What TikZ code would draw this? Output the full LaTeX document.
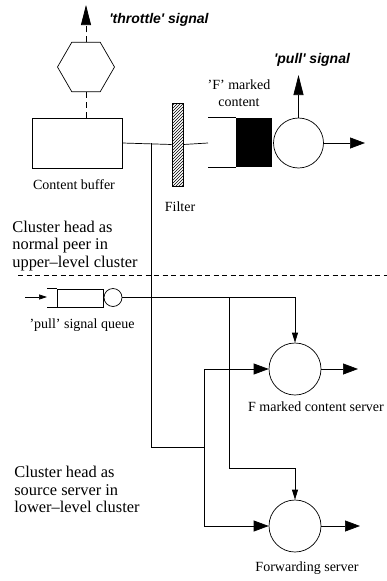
\documentclass[tikz,border=0pt]{standalone}
\usepackage{fontspec}
\setmainfont{Liberation Serif}
\newfontfamily\signalfont{Liberation Sans}
\usetikzlibrary{positioning,arrows.meta,shapes.geometric,patterns,calc}

\newcommand{\lblsize}{\fontsize{14}{17}\selectfont}
\newcommand{\roleside}{\fontsize{16.4}{17.2}\selectfont}

\begin{document}
\begin{tikzpicture}[x=1pt, y=-1pt, line width=0.7pt,
    bigtip/.style={-{Triangle[length=20pt,width=10pt]}},
    sidetip/.style={-{Triangle[length=15pt,width=11pt]}},
    smalltip/.style={-{Triangle[length=10pt,width=6pt]}},
    tinytip/.style={-{Triangle[length=8pt,width=5pt]}},
    dashwire/.style={dash pattern=on 6pt off 4pt},
    label/.style={font=\lblsize, inner sep=0pt},
    signal/.style={font=\signalfont\bfseries\itshape\lblsize, inner sep=0pt},
    role/.style={font=\roleside, align=left, anchor=west, inner sep=0pt},
    server/.style={draw, circle, minimum size=52pt, inner sep=0pt}]

    \useasboundingbox (0,0) rectangle (387,581);

    % ================= UPPER-LEVEL CLUSTER =================
    \node[draw, regular polygon, regular polygon sides=6, minimum size=57pt, inner sep=0pt] (throttle) at (86,67) {};
    \node[draw, rectangle, minimum width=90pt, minimum height=50pt, inner sep=0pt] (buf) at (77,143) {};
    \node[label] (buflbl) at (74,185) {Content buffer};
    \coordinate (throttleend) at (86,5);
    \node[signal] (throttlelbl) at (159,20) {'throttle' signal};

    % throttle signal out of the buffer
    \draw[dashwire] (buf.north -| throttle.center) -- ($(throttle.center)+(0,24.7)$);
    \draw[dashwire, bigtip] ($(throttle.center)+(0,-24.7)$) -- (throttleend);

    % Filter
    \node[draw, rectangle, pattern=north east lines, minimum width=11pt, minimum height=83pt, inner sep=0pt] (filter) at (177.5,144.5) {};
    \node[label] (filterlbl) at (180,207) {Filter};

    % 'F' marked content queue
    \node[fill=black, rectangle, minimum width=36pt, minimum height=49pt, inner sep=0pt] (fblock) at (254,142.5) {};
    \draw (fblock.north west) -- ++(-28,0);
    \draw (fblock.south west) -- ++(-28,0);
    \coordinate (fin) at (208,143);
    \node[draw, circle, minimum size=50pt, inner sep=0pt] (fcirc) at (298.5,143) {};
    \node[label, align=center] (fblocklbl) at (239,93) {'F' marked\\content};
    \coordinate (pullend) at (298.5,75);
    \coordinate (fout) at (365,143);
    \node[signal] (pulllbl) at (312,60) {'pull' signal};

    \draw (buf.east) -- (filter.west);
    \draw (filter.east) -- (fin);
    \draw[bigtip] (fcirc.north) -- (pullend);
    \draw[sidetip] (fcirc.east) -- (fout);

    \node[role] (upperlbl) at (12,246) {Cluster head as\\normal peer in\\upper--level cluster};

    % Level boundary
    \draw[dash pattern=on 5pt off 3.5pt] (18,275) -- (387,275);

    % ================= LOWER-LEVEL CLUSTER =================
    % 'pull' signal queue
    \node[draw, rectangle, minimum width=46pt, minimum height=18pt, inner sep=0pt] (pq) at (80,298) {};
    \draw (pq.north west) -- ++(-10,0);
    \draw (pq.south west) -- ++(-10,0);
    \coordinate (pin) at (25,297);
    \node[draw, circle, minimum size=18pt, inner sep=0pt] (pdot) at (113,297.5) {};
    \node[label] (pqlbl) at (82,325) {'pull' signal queue};
    \draw[tinytip] (pin) -- (47,297);

    % Servers
    \node[server] (fsrv) at (295,369) {};
    \node[label] (fsrvlbl) at (316,407) {F marked content server};
    \node[server] (fwd) at (295,526) {};
    \node[label] (fwdlbl) at (307,568) {Forwarding server};
    \coordinate (fsrvout) at (358,369);
    \coordinate (fwdout) at (360,526);
    \draw[sidetip] (fsrv.east) -- (fsrvout);
    \draw[sidetip] (fwd.east) -- (fwdout);

    \node[role] (lowerlbl) at (14,489.5) {Cluster head as\\source server in\\lower--level cluster};

    % Content feed from the buffer to both servers
    \coordinate (tap) at (151,143);
    \coordinate (split) at (204,447);
    \draw (tap) |- (split);
    \draw[sidetip] (split) |- (fsrv.west);
    \draw[sidetip] (split) |- (fwd.west);

    % 'pull' signals to both servers
    \coordinate (ptap) at (229,297.5);
    \coordinate (pbend) at (229,468);
    \draw (pdot.east) -- (ptap);
    \draw[smalltip] (ptap) -| (fsrv.north);
    \draw[smalltip] (ptap) -- (pbend) -| (fwd.north);

\end{tikzpicture}
\end{document}
